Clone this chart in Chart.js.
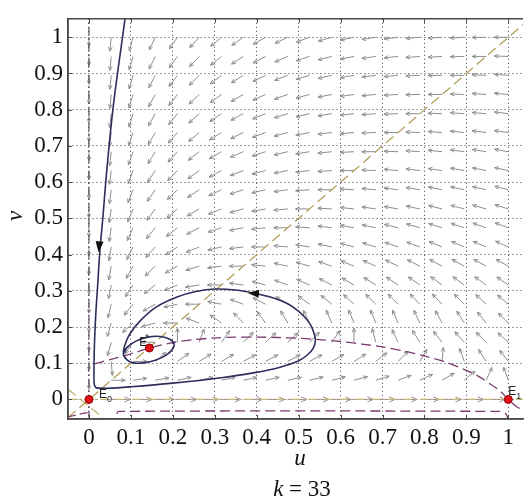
<!DOCTYPE html>
<html>
<head>
<meta charset="utf-8">
<script src="https://cdn.jsdelivr.net/npm/chart.js@4.4.0/dist/chart.umd.min.js"></script>
<style>
  html, body { margin: 0; padding: 0; background: #fff; }
</style>
</head>
<body>
<canvas id="phase" width="528" height="501"></canvas>
<script>
// axis ticks
const xTickValues = [0, 0.1, 0.2, 0.3, 0.4, 0.5, 0.6, 0.7, 0.8, 0.9, 1];
const xTickLabels = ['0', '0.1', '0.2', '0.3', '0.4', '0.5', '0.6', '0.7', '0.8', '0.9', '1'];
const yTickValues = [0, 0.1, 0.2, 0.3, 0.4, 0.5, 0.6, 0.7, 0.8, 0.9, 1];
const yTickLabels = ['0', '0.1', '0.2', '0.3', '0.4', '0.5', '0.6', '0.7', '0.8', '0.9', '1'];

// direction field grid (20 x 20)
const fieldU = [0, 0.053, 0.105, 0.158, 0.211, 0.263, 0.316, 0.368, 0.421, 0.474, 0.526, 0.579, 0.632, 0.684, 0.737, 0.789, 0.842, 0.895, 0.947, 1];
const fieldV = [0, 0.053, 0.105, 0.158, 0.211, 0.263, 0.316, 0.368, 0.421, 0.474, 0.526, 0.579, 0.632, 0.684, 0.737, 0.789, 0.842, 0.895, 0.947, 1];
// arrow direction in degrees (0 = right, 90 = up), rows from v = 1 down to v = 0
const fieldAngles = [
  [270,265,255,245,235,227,220,215,210,205,200,196,192,189,187,185,184,183,181,180],
  [270,265,254,244,234,226,219,213,208,203,198,194,191,188,186,184,183,181,180,178],
  [270,265,254,243,233,225,218,212,206,201,197,193,190,187,185,183,181,180,178,176],
  [270,265,253,242,232,223,216,210,204,199,195,191,188,185,183,181,180,178,176,175],
  [270,264,253,241,231,222,214,208,202,197,193,189,186,184,182,180,178,176,175,173],
  [270,264,252,240,229,220,212,206,200,195,191,187,185,182,180,178,176,174,173,172],
  [270,264,251,239,228,218,210,203,198,193,189,186,183,180,178,176,174,172,171,170],
  [270,263,250,237,226,216,208,201,195,191,187,184,180,178,175,173,172,170,169,168],
  [270,263,249,236,224,213,205,198,193,188,184,180,177,175,173,171,169,168,167,166],
  [270,262,248,234,221,210,202,195,190,185,180,177,174,172,170,168,166,165,164,163],
  [270,262,246,231,218,207,198,191,186,180,176,173,170,168,166,164,163,162,161,160],
  [270,261,244,228,214,202,193,187,180,175,171,168,165,163,161,160,158,157,157,156],
  [270,260,241,224,209,197,187,180,174,168,164,161,158,156,154,153,152,151,151,151],
  [270,259,237,218,202,189,180,172,165,160,156,153,150,148,146,145,144,144,144,145],
  [270,257,231,209,192,180,169,160,153,148,144,141,138,136,135,134,134,135,137,140],
  [270,254,222,195,180,160,145,134,126,120,116,113,112,112,113,115,118,122,128,135],
  [270,255,235,180,90,70,55,45,42,42,45,55,90,105,115,122,128,132,135,138],
  [270,275,0,40,35,32,30,28,28,28,28,30,32,38,45,60,85,110,122,128],
  [270,0,8,10,12,12,12,12,12,12,13,14,15,17,20,25,30,40,65,110],
  [null,0,0,0,0,0,0,0,0,0,0,0,0,0,0,0,0,0,0,null]
];

// prey nullcline (upper branch)
const preyNullU = [0.013, 0.05, 0.1, 0.144, 0.2, 0.25, 0.3, 0.35, 0.4, 0.45, 0.5, 0.55, 0.6, 0.65, 0.7, 0.75, 0.8, 0.85, 0.9, 0.93, 0.96, 0.98, 1.0, 1.02, 1.035];
const preyNullV = [0.098, 0.11, 0.126, 0.142, 0.157, 0.165, 0.17, 0.172, 0.172, 0.171, 0.169, 0.165, 0.16, 0.153, 0.145, 0.134, 0.12, 0.103, 0.08, 0.063, 0.04, 0.024, 0, -0.02, -0.03];
// prey nullcline (lower branch)
const lowerNullU = [0.066, 0.07, 0.98, 0.993, 1.0];
const lowerNullV = [-0.04, -0.033, -0.033, -0.038, -0.054];
const cornerNullU = [-0.05, -0.02, 0];
const cornerNullV = [-0.048, -0.04, -0.036];
// predator nullcline v = u and the short branch through the origin
const diagU = [-0.05, 1.035];
const diagV = [-0.05, 1.035];
const antiU = [-0.05, 0.035];
const antiV = [0.028, -0.052];

// trajectory
const trajU = [0.086, 0.080, 0.068, 0.057, 0.048, 0.040, 0.033, 0.026, 0.021, 0.016, 0.013, 0.012, 0.012, 0.013, 0.018, 0.045,
  0.1, 0.2, 0.316, 0.395, 0.44, 0.473, 0.5, 0.52, 0.535, 0.54, 0.533, 0.52, 0.498, 0.473, 0.44, 0.395, 0.35, 0.3, 0.255,
  0.21, 0.16, 0.122, 0.097, 0.085,
  0.082, 0.09, 0.105, 0.13, 0.16, 0.185, 0.2, 0.203, 0.193, 0.17, 0.14, 0.112, 0.092,
  0.082, 0.09, 0.105, 0.13, 0.16, 0.185, 0.2, 0.203, 0.193, 0.17, 0.14, 0.112, 0.092, 0.083];
const trajV = [1.052, 1.0, 0.9, 0.8, 0.7, 0.6, 0.5, 0.41, 0.32, 0.23, 0.15, 0.093, 0.055, 0.04, 0.032, 0.031,
  0.035, 0.045, 0.06, 0.074, 0.084, 0.095, 0.107, 0.122, 0.142, 0.165, 0.195, 0.22, 0.245, 0.265, 0.28, 0.293, 0.302, 0.305, 0.298,
  0.283, 0.255, 0.217, 0.18, 0.148,
  0.125, 0.11, 0.101, 0.101, 0.109, 0.123, 0.14, 0.153, 0.166, 0.174, 0.172, 0.161, 0.145,
  0.125, 0.11, 0.101, 0.101, 0.109, 0.123, 0.14, 0.153, 0.166, 0.174, 0.172, 0.161, 0.145, 0.128];
// arrowheads on the trajectory
const trajArrowU = [0.023, 0.379];
const trajArrowV = [0.406, 0.294];
const trajArrowDir = [265, 176];

// equilibria
const eqU = [0, 1, 0.144];
const eqV = [0, 0, 0.142];
const eqMain = ['E', 'E', 'E'];
const eqSub = ['0', '1', ''];
const eqSup = ['', '', '*'];

const serif = '"Liberation Serif", "Times New Roman", serif';
const sans = '"Liberation Sans", Arial, sans-serif';

const pts = (us, vs) => us.map((u, i) => ({ x: u, y: vs[i] }));

function drawArrow(ctx, x0, y0, ang, len) {
  const a = ang * Math.PI / 180;
  const dx = Math.cos(a), dy = -Math.sin(a);
  const x1 = x0 + dx * len, y1 = y0 + dy * len;
  const h = Math.max(4, len * 0.32), spread = 0.42;
  const back = Math.atan2(-dy, -dx);
  ctx.beginPath();
  ctx.moveTo(x0, y0);
  ctx.lineTo(x1, y1);
  ctx.moveTo(x1 + h * Math.cos(back + spread), y1 + h * Math.sin(back + spread));
  ctx.lineTo(x1, y1);
  ctx.lineTo(x1 + h * Math.cos(back - spread), y1 + h * Math.sin(back - spread));
  ctx.stroke();
}

const phasePlugin = {
  id: 'phasePlugin',
  beforeDatasetsDraw(chart) {
    const { ctx, chartArea, scales: { x, y } } = chart;
    ctx.save();
    ctx.beginPath();
    ctx.rect(chartArea.left, chartArea.top, chartArea.right - chartArea.left, chartArea.bottom - chartArea.top);
    ctx.clip();
    ctx.strokeStyle = '#8e8e8e';
    ctx.lineWidth = 1;
    const n = fieldV.length;
    fieldAngles.forEach((row, r) => {
      const v = fieldV[n - 1 - r];
      row.forEach((ang, c) => {
        if (ang === null) return;
        const u = fieldU[c];
        let len = 14;
        if (v === 0) len = 19;
        else if (u === 0) len = 9;
        drawArrow(ctx, x.getPixelForValue(u), y.getPixelForValue(v), ang, len);
      });
    });
    ctx.restore();
  },
  afterDatasetsDraw(chart) {
    const { ctx, chartArea: ca, scales: { x, y } } = chart;
    ctx.save();
    // trajectory arrowheads
    ctx.fillStyle = '#111';
    trajArrowU.forEach((u, i) => {
      const px = x.getPixelForValue(u), py = y.getPixelForValue(trajArrowV[i]);
      const a = trajArrowDir[i] * Math.PI / 180;
      const dx = Math.cos(a), dy = -Math.sin(a);
      const L = 11, W = 4;
      ctx.beginPath();
      ctx.moveTo(px, py);
      ctx.lineTo(px - dx * L - dy * W, py - dy * L + dx * W);
      ctx.lineTo(px - dx * L + dy * W, py - dy * L - dx * W);
      ctx.closePath();
      ctx.fill();
    });
    // equilibrium labels
    ctx.fillStyle = '#222';
    ctx.textBaseline = 'alphabetic';
    ctx.textAlign = 'left';
    const offs = [[10, -1], [0, -4], [-10, -2]];
    eqU.forEach((u, i) => {
      const px = x.getPixelForValue(u) + offs[i][0];
      const py = y.getPixelForValue(eqV[i]) + offs[i][1];
      ctx.font = '12px ' + sans;
      ctx.fillText(eqMain[i], px, py);
      const w = ctx.measureText(eqMain[i]).width;
      ctx.font = '9px ' + sans;
      if (eqSub[i]) ctx.fillText(eqSub[i], px + w, py + 4);
      if (eqSup[i]) ctx.fillText(eqSup[i], px + w - 2, py - 6);
    });
    // frame and inner tick marks
    ctx.strokeStyle = '#4a4a4a';
    ctx.lineWidth = 1.5;
    ctx.beginPath();
    ctx.moveTo(ca.right, ca.top);
    ctx.lineTo(ca.left, ca.top);
    ctx.lineTo(ca.left, ca.bottom);
    ctx.lineTo(ca.right, ca.bottom);
    ctx.stroke();
    ctx.lineWidth = 1;
    ctx.beginPath();
    xTickValues.forEach(v => {
      const px = Math.round(x.getPixelForValue(v)) + 0.5;
      ctx.moveTo(px, ca.top); ctx.lineTo(px, ca.top + 4);
      ctx.moveTo(px, ca.bottom); ctx.lineTo(px, ca.bottom - 4);
    });
    yTickValues.forEach(v => {
      const py = Math.round(y.getPixelForValue(v)) + 0.5;
      ctx.moveTo(ca.left, py); ctx.lineTo(ca.left + 4, py);
    });
    ctx.stroke();
    ctx.restore();
  },
  afterDraw(chart) {
    const { ctx } = chart;
    ctx.save();
    ctx.fillStyle = '#111';
    ctx.textAlign = 'center';
    ctx.textBaseline = 'middle';
    ctx.font = 'italic 23px ' + serif;
    ctx.fillText('u', 300, 459);
    ctx.save();
    ctx.translate(16, 216);
    ctx.rotate(-Math.PI / 2);
    ctx.fillText('v', 0, 0);
    ctx.restore();
    // k = 33
    ctx.textAlign = 'left';
    ctx.textBaseline = 'alphabetic';
    ctx.font = 'italic 23px ' + serif;
    const wk = ctx.measureText('k').width;
    ctx.font = '23px ' + serif;
    const rest = ' = 33';
    const wr = ctx.measureText(rest).width;
    const x0 = 302 - (wk + wr) / 2;
    ctx.font = 'italic 23px ' + serif;
    ctx.fillText('k', x0, 496);
    ctx.font = '23px ' + serif;
    ctx.fillText(rest, x0 + wk, 496);
    ctx.restore();
  }
};

new Chart(document.getElementById('phase'), {
  type: 'scatter',
  data: {
    datasets: [
      {
        label: 'equilibria',
        data: pts(eqU, eqV),
        pointRadius: 4,
        pointBackgroundColor: '#e3101a',
        pointBorderColor: '#8a0000',
        pointBorderWidth: 1,
        showLine: false
      },
      {
        label: 'trajectory',
        data: pts(trajU, trajV),
        showLine: true,
        pointRadius: 0,
        borderColor: '#2c2e5c',
        borderWidth: 1.6,
        tension: 0.35
      },
      {
        label: 'prey nullcline',
        data: pts(preyNullU, preyNullV),
        showLine: true,
        pointRadius: 0,
        borderColor: '#7a3d72',
        borderWidth: 1.3,
        borderDash: [10, 5],
        tension: 0.3
      },
      {
        label: 'prey nullcline lower',
        data: pts(lowerNullU, lowerNullV),
        showLine: true,
        pointRadius: 0,
        borderColor: '#7a3d72',
        borderWidth: 1.3,
        borderDash: [10, 5],
        tension: 0.3
      },
      {
        label: 'prey nullcline corner',
        data: pts(cornerNullU, cornerNullV),
        showLine: true,
        pointRadius: 0,
        borderColor: '#7a3d72',
        borderWidth: 1.3,
        borderDash: [8, 4]
      },
      {
        label: 'u = 0',
        data: [{ x: 0, y: -0.054 }, { x: 0, y: 1.051 }],
        showLine: true,
        pointRadius: 0,
        borderColor: '#5e4a62',
        borderWidth: 1.2,
        borderDash: [8, 3, 2, 3]
      },
      {
        label: 'v = u',
        data: pts(diagU, diagV),
        showLine: true,
        pointRadius: 0,
        borderColor: '#b3a05c',
        borderWidth: 1.3,
        borderDash: [10, 5]
      },
      {
        label: 'origin branch',
        data: pts(antiU, antiV),
        showLine: true,
        pointRadius: 0,
        borderColor: '#c4b274',
        borderWidth: 1.3,
        borderDash: [10, 5]
      },
      {
        label: 'v = 0',
        data: [{ x: -0.05, y: 0 }, { x: 1.035, y: 0 }],
        showLine: true,
        pointRadius: 0,
        borderColor: '#cbb676',
        borderWidth: 1.2,
        borderDash: [8, 3, 2, 3]
      }
    ]
  },
  options: {
    responsive: false,
    animation: false,
    devicePixelRatio: 1,
    layout: { padding: { top: 13, left: 0, right: 0, bottom: 0 } },
    plugins: {
      legend: { display: false },
      tooltip: { enabled: false }
    },
    scales: {
      x: {
        type: 'linear',
        min: -0.05,
        max: 1.035,
        afterBuildTicks: s => { s.ticks = xTickValues.map(v => ({ value: v })); },
        afterFit: s => { s.height = 82; },
        grid: { color: '#3c3c3c', lineWidth: 1, drawTicks: false },
        border: { display: true, color: '#4a4a4a', width: 1.5, dash: [1, 3] },
        ticks: {
          callback: (v, i) => xTickLabels[i],
          font: { family: serif, size: 23 },
          color: '#111',
          padding: 5,
          maxRotation: 0,
          autoSkip: false
        }
      },
      y: {
        type: 'linear',
        min: -0.054,
        max: 1.051,
        afterBuildTicks: s => { s.ticks = yTickValues.map(v => ({ value: v })); },
        afterFit: s => { s.width = 68; },
        grid: { color: '#3c3c3c', lineWidth: 1, drawTicks: false },
        border: { display: true, color: '#4a4a4a', width: 1.5, dash: [1, 3] },
        ticks: {
          callback: (v, i) => yTickLabels[i],
          font: { family: serif, size: 23 },
          color: '#111',
          padding: 5,
          autoSkip: false
        }
      }
    }
  },
  plugins: [phasePlugin]
});
</script>
</body>
</html>
